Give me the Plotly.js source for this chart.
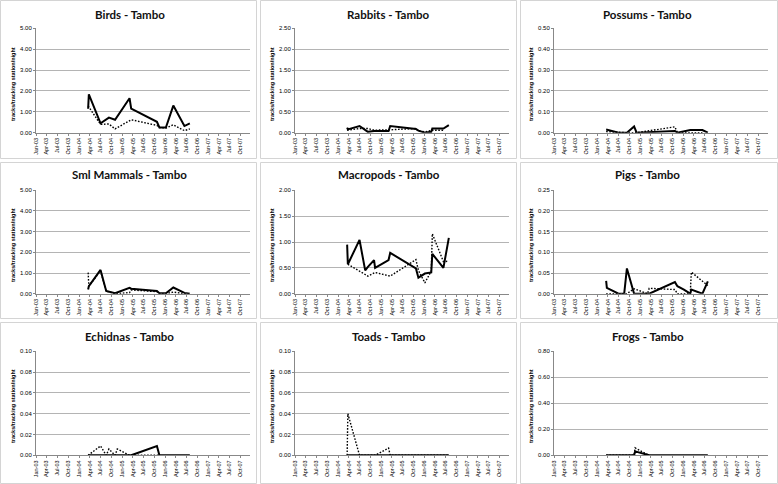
<!DOCTYPE html>
<html>
<head>
<meta charset="utf-8">
<script src="https://cdn.plot.ly/plotly-3.0.1.min.js"></script>
<style>html,body{margin:0;padding:0;background:#fff;}#chart{width:778px;height:484px;}</style>
</head>
<body>
<div id="chart"></div>
<script>
// ---- data ----
const panelTitles = ["Birds - Tambo","Rabbits - Tambo","Possums - Tambo","Sml Mammals - Tambo","Macropods - Tambo","Pigs - Tambo","Echidnas - Tambo","Toads - Tambo","Frogs - Tambo"];
const yMax  = [5, 2.5, 0.5, 5, 2, 0.25, 0.1, 0.1, 0.8];
const yStep = [1, 0.5, 0.1, 1, 0.5, 0.05, 0.02, 0.02, 0.2];
const yAxisTitle = "tracks/tracking station/night";

const birdsDates  = ["2004-03-18","2004-03-24","2004-07-01","2004-09-10","2004-11-01","2005-03-04","2005-03-18","2005-10-22","2005-11-12","2006-01-06","2006-03-10","2006-06-12","2006-07-28"];
const birdsSolid  = [1.15,1.84,0.45,0.72,0.62,1.65,1.15,0.52,0.25,0.25,1.30,0.32,0.45];
const birdsDotted = [1.28,null,0.40,0.42,0.18,null,0.62,0.35,0.25,0.22,0.38,0.10,0.18];

const rabbitsDates  = ["2004-03-18","2004-03-24","2004-07-01","2004-09-10","2004-11-01","2005-03-04","2005-03-18","2005-10-22","2005-11-12","2006-01-06","2006-03-01","2006-03-10","2006-06-12","2006-07-28"];
const rabbitsSolid  = [0.12,0.08,0.16,0.02,0.04,0.04,0.16,0.09,0.05,0.00,0.02,0.10,0.10,0.18];
const rabbitsDotted = [0.06,null,0.10,0.10,0.06,null,0.07,0.10,0.04,0.02,null,0.06,0.06,null];

const possumsDates  = ["2004-03-18","2004-07-01","2004-09-10","2004-11-10","2004-12-01","2005-10-22","2005-11-12","2006-03-01","2006-06-12","2006-07-28"];
const possumsSolid  = [0.015,0,0,0.03,0,0.008,0,0.013,0.013,0];
const possumsDotted = [0.005,0,0,0,0,0.028,0,0,0,null];

const smlDates  = ["2004-03-18","2004-03-24","2004-07-01","2004-08-18","2004-11-01","2005-03-04","2005-03-18","2005-10-22","2005-11-12","2006-01-06","2006-03-10","2006-06-12","2006-07-28"];
const smlSolid  = [0.20,0.37,1.15,0.13,0.02,0.28,0.24,0.13,0.02,0.02,0.30,0.04,0.00];
const smlDotted = [1.02,0.37,1.10,0.13,0.00,0.05,0.18,0.10,0.00,0.00,0.08,0.00,0.00];

const macroDates  = ["2004-03-18","2004-03-24","2004-07-01","2004-08-18","2004-09-10","2004-11-01","2004-11-10","2005-03-04","2005-03-18","2005-10-22","2005-11-12","2006-01-06","2006-03-01","2006-03-10","2006-06-12","2006-07-28"];
const macroSolid  = [0.95,0.57,1.04,0.45,0.52,0.65,0.50,0.65,0.79,0.49,0.31,0.39,0.41,0.77,0.50,1.08];
const macroDotted = [null,0.57,null,null,0.34,null,0.41,null,0.34,0.66,0.45,0.21,0.44,1.16,0.62,0.63];

const pigsDates  = ["2004-03-18","2004-03-24","2004-07-01","2004-08-18","2004-09-10","2004-11-10","2005-03-04","2005-03-18","2005-10-22","2005-11-12","2006-01-06","2006-03-01","2006-03-10","2006-06-12","2006-07-28"];
const pigsSolid  = [0.031,0.014,0,0,0.061,0,0,0,0.028,0.018,0.010,0,0.010,0,0.030];
const pigsDotted = [0,0,0,0,0,0.012,0,0.013,0.010,0,0,0,0.052,null,0.020];

const echDates  = ["2004-03-18","2004-07-01","2004-08-18","2004-09-10","2004-11-01","2004-11-20","2005-03-04","2005-03-18","2005-10-22","2005-11-12","2006-01-06","2006-03-10","2006-06-12","2006-07-28"];
const echSolid  = [0,0,0,0,0,0,0,0,0.009,0,0,0,0,0];
const echDotted = [0,0.009,0,0.006,0,0.006,0,0,0,0,null,null,null,null];

const toadsDates  = ["2004-03-18","2004-03-24","2004-07-01","2004-11-10","2005-03-04","2005-03-18","2005-10-22","2005-11-12","2006-01-06","2006-03-10","2006-06-12","2006-07-28"];
const toadsSolid  = [0,0,0,0,0,0,0,0,0,0,0,0];
const toadsDotted = [0,0.04,0,0,0.007,0,0,0,0,0,0,0];

const frogsDates  = ["2004-03-18","2004-11-10","2004-11-19","2005-03-04","2005-03-18","2006-07-28"];
const frogsSolid  = [0,0,0.03,0.005,0,0];
const frogsDotted = [0,0,0.057,0.01,0,null];

const panelData = [
  [birdsDates, birdsSolid, birdsDotted],
  [rabbitsDates, rabbitsSolid, rabbitsDotted],
  [possumsDates, possumsSolid, possumsDotted],
  [smlDates, smlSolid, smlDotted],
  [macroDates, macroSolid, macroDotted],
  [pigsDates, pigsSolid, pigsDotted],
  [echDates, echSolid, echDotted],
  [toadsDates, toadsSolid, toadsDotted],
  [frogsDates, frogsSolid, frogsDotted]
];

// ---- layout geometry (pixels) ----
const W = 778, H = 484;
const colPanels = [[0.5,256.5],[260.5,516.5],[520.5,777.5]];
const rowPanels = [[0.5,158.5],[162.5,318.5],[322.5,483.5]];
const colRef = [0, 259, 518];
const rowRef = [0, 161, 322];
const colPlot = [[36,250],[295,509],[554,768]];
const rowPlot = [[28.3,132.7],[190.3,293.7],[351.3,455.3]];

const px = v => v / W;
const py = v => 1 - v / H;

const traces = [];
const layout = {
  width: W, height: H,
  margin: {l:0, r:0, t:0, b:0},
  paper_bgcolor: '#ffffff',
  plot_bgcolor: '#ffffff',
  showlegend: false,
  font: {family: 'Lato, "Liberation Sans", sans-serif', color: '#000'},
  shapes: [], annotations: []
};

panelData.forEach((d, i) => {
  const r = Math.floor(i / 3), c = i % 3;
  const n = i === 0 ? '' : String(i + 1);
  const xa = 'x' + n, ya = 'y' + n;
  traces.push({x: d[0], y: d[2], xaxis: xa, yaxis: ya, type: 'scatter', mode: 'lines', connectgaps: true,
               line: {color: '#000', width: 1.4, dash: '1.6px,1.6px'}, hoverinfo: 'skip'});
  traces.push({x: d[0], y: d[1], xaxis: xa, yaxis: ya, type: 'scatter', mode: 'lines', connectgaps: true,
               line: {color: '#000', width: 2}, hoverinfo: 'skip'});

  layout['xaxis' + n] = {
    domain: [px(colPlot[c][0]), px(colPlot[c][1])],
    anchor: ya, type: 'date',
    range: ['2003-01-01', '2007-12-20'],
    tick0: '2003-01-01', dtick: 'M3', tickformat: '%b-%y', tickangle: -90,
    tickfont: {size: 5.5, color: '#000', family: '"Liberation Sans", sans-serif'},
    ticks: 'outside', ticklen: 2, tickcolor: '#888',
    showgrid: false, zeroline: false, showline: true, linecolor: '#888', linewidth: 1,
    fixedrange: true
  };
  layout['yaxis' + n] = {
    domain: [py(rowPlot[r][1]), py(rowPlot[r][0])],
    anchor: xa, range: [0, yMax[i]], dtick: yStep[i], tick0: 0, tickformat: '.2f',
    tickfont: {size: 6, color: '#000', family: '"Liberation Sans", sans-serif'},
    ticks: 'outside', ticklen: 2, tickcolor: '#888',
    showgrid: true, gridcolor: '#b4b4b4', gridwidth: 1,
    zeroline: false, showline: true, linecolor: '#888', linewidth: 1,
    fixedrange: true
  };

  layout.shapes.push({type: 'rect', xref: 'paper', yref: 'paper',
    x0: px(colPanels[c][0]), x1: px(colPanels[c][1]),
    y0: py(rowPanels[r][1]), y1: py(rowPanels[r][0]),
    line: {color: '#d4d4d4', width: 1}, fillcolor: 'rgba(0,0,0,0)', layer: 'below'});

  layout.annotations.push({xref: 'paper', yref: 'paper',
    x: px(colRef[c] + 129.5), y: py(rowRef[r] + 14),
    text: '<b>' + panelTitles[i] + '</b>', showarrow: false,
    xanchor: 'center', yanchor: 'middle',
    font: {size: 11.5, color: '#111', family: 'Lato, "Liberation Sans", sans-serif'}});

  layout.annotations.push({xref: 'paper', yref: 'paper',
    x: px(colRef[c] + 13), y: py(rowRef[r] + 84),
    text: '<b>' + yAxisTitle + '</b>', showarrow: false, textangle: -90,
    xanchor: 'center', yanchor: 'middle',
    font: {size: 5.5, color: '#000', family: '"Liberation Sans", sans-serif'}});
});

Plotly.newPlot('chart', traces, layout, {staticPlot: true, displayModeBar: false});
</script>
</body>
</html>
